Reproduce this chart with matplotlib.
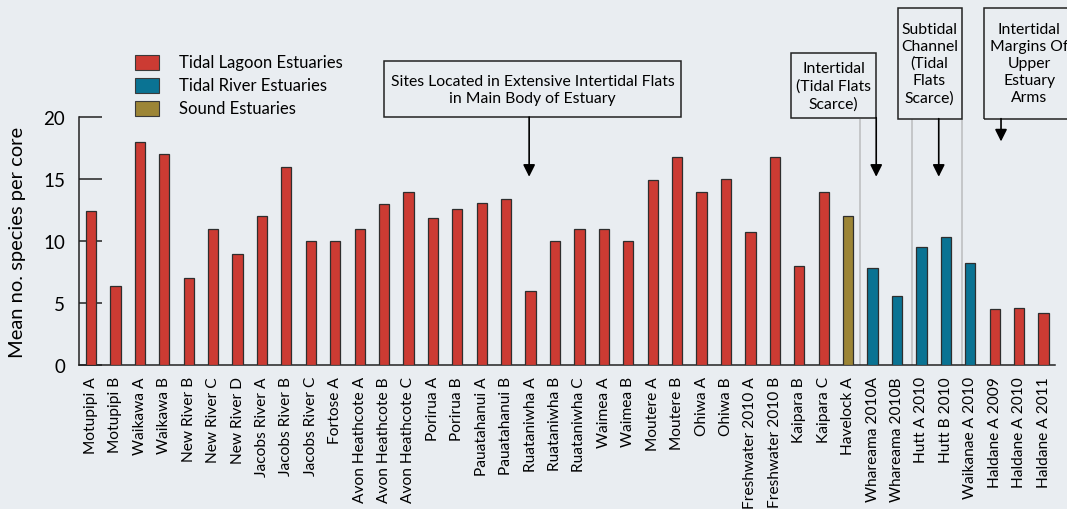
import matplotlib.pyplot as plt
from matplotlib.patches import Rectangle

plt.rcParams['font.family'] = ['Lato', 'DejaVu Sans']

# Sites and mean species richness per core
sitios = [
    'Motupipi A', 'Motupipi B', 'Waikawa A', 'Waikawa B', 'New River B',
    'New River C', 'New River D', 'Jacobs River A', 'Jacobs River B', 'Jacobs River C',
    'Fortose A', 'Avon Heathcote A', 'Avon Heathcote B', 'Avon Heathcote C', 'Porirua A',
    'Porirua B', 'Pauatahanui A', 'Pauatahanui B', 'Ruataniwha A', 'Ruataniwha B',
    'Ruataniwha C', 'Waimea A', 'Waimea B', 'Moutere A', 'Moutere B',
    'Ohiwa A', 'Ohiwa B', 'Freshwater 2010 A', 'Freshwater 2010 B', 'Kaipara B',
    'Kaipara C', 'Havelock A', 'Whareama 2010A', 'Whareama 2010B', 'Hutt A 2010',
    'Hutt B 2010', 'Waikanae A 2010', 'Haldane A 2009', 'Haldane A 2010', 'Haldane A 2011',
]
especies = [
    12.4, 6.4, 18.0, 17.0, 7.0,
    11.0, 9.0, 12.0, 16.0, 10.0,
    10.0, 11.0, 13.0, 14.0, 11.9,
    12.6, 13.1, 13.4, 6.0, 10.0,
    11.0, 11.0, 10.0, 14.9, 16.8,
    14.0, 15.0, 10.7, 16.8, 8.0,
    14.0, 12.0, 7.8, 5.6, 9.5,
    10.3, 8.2, 4.5, 4.6, 4.2,
]
# Estuary type per site: L = tidal lagoon, R = tidal river, S = sound
tipo = ['L'] * 31 + ['S'] + ['R'] * 5 + ['L'] * 3

tipos = ['L', 'R', 'S']
nombres_tipo = ['Tidal Lagoon Estuaries', 'Tidal River Estuaries', 'Sound Estuaries']
colores = {'L': '#cc3b33', 'R': '#0a7393', 'S': '#9c8536'}

fondo = '#e9edf1'
W, H = 1067, 510

fig = plt.figure(figsize=(W / 100, H / 100), dpi=100, facecolor=fondo)
ax = fig.add_axes([79 / W, 144 / H, 976 / W, 247.7 / H])
ax.set_facecolor(fondo)

x = range(len(sitios))
ax.bar(x, especies, width=0.42, color=[colores[t] for t in tipo],
       edgecolor='#2e2e2e', linewidth=0.9, zorder=3)

ax.set_xlim(-0.49, 39.47)
ax.set_ylim(0, 20)
ax.set_yticks([0, 5, 10, 15, 20])
ax.tick_params(axis='y', direction='in', length=16.5, width=1.1, pad=10,
               labelsize=13.5, color='#222222')
ax.set_xticks(list(x))
ax.set_xticklabels(sitios, rotation=90, fontsize=11.2)
ax.tick_params(axis='x', length=0, pad=8)
for s in ['top', 'right']:
    ax.spines[s].set_visible(False)
for s in ['left', 'bottom']:
    ax.spines[s].set_linewidth(1.1)
    ax.spines[s].set_color('#222222')
ax.set_ylabel('Mean no. species per core', fontsize=14.5)
ax.yaxis.set_label_coords(-0.054, 0.5)

# Gray separators between site groups
ax.vlines([31.49, 33.6, 35.65], 0, 19.9, colors='#c4c6c8', linewidth=1.4,
          zorder=1, clip_on=False)

# Annotation boxes: (left, right, bottom, top), text center, text
cajas = [
    ((12.0, 24.16, 20.02, 24.58), (18.08, 22.25),
     'Sites Located in Extensive Intertidal Flats\nin Main Body of Estuary'),
    ((28.66, 32.15, 19.97, 25.2), (30.4, 22.55), 'Intertidal\n(Tidal Flats\nScarce)'),
    ((33.03, 35.68, 19.89, 28.84), (34.33, 24.37), 'Subtidal\nChannel\n(Tidal\nFlats\nScarce)'),
    ((36.57, 40.3, 19.89, 28.84), (38.41, 24.4), 'Intertidal\nMargins Of\nUpper\nEstuary\nArms'),
]
for (x0, x1, y0, y1), (tx, ty), texto in cajas:
    ax.add_patch(Rectangle((x0, y0), x1 - x0, y1 - y0, facecolor='none',
                           edgecolor='#222222', linewidth=1.1, clip_on=False))
    ax.text(tx, ty, texto, ha='center', va='center', fontsize=11.3,
            linespacing=1.28, clip_on=False)

# Arrows from the boxes
flechas = [(17.94, 20.02, 15.2), (32.15, 19.97, 15.2),
           (34.71, 19.89, 15.2), (37.26, 19.89, 18.05)]
for fx, y_ini, y_fin in flechas:
    ax.annotate('', xy=(fx, y_fin), xytext=(fx, y_ini),
                arrowprops=dict(arrowstyle='-|>', color='black', lw=1.2,
                                mutation_scale=18, shrinkA=0, shrinkB=0),
                annotation_clip=False)

# Legend
for i, (t, nombre) in enumerate(zip(tipos, nombres_tipo)):
    yc = 63.3 + i * 23
    fig.patches.append(Rectangle((135 / W, 1 - (yc + 7.5) / H), 24 / W, 15 / H,
                                 facecolor=colores[t], edgecolor='#3a3a3a',
                                 linewidth=0.8, transform=fig.transFigure))
    fig.text(179 / W, 1 - yc / H, nombre, ha='left', va='center', fontsize=12)

fig.savefig('out.png', dpi=100, facecolor=fondo)
